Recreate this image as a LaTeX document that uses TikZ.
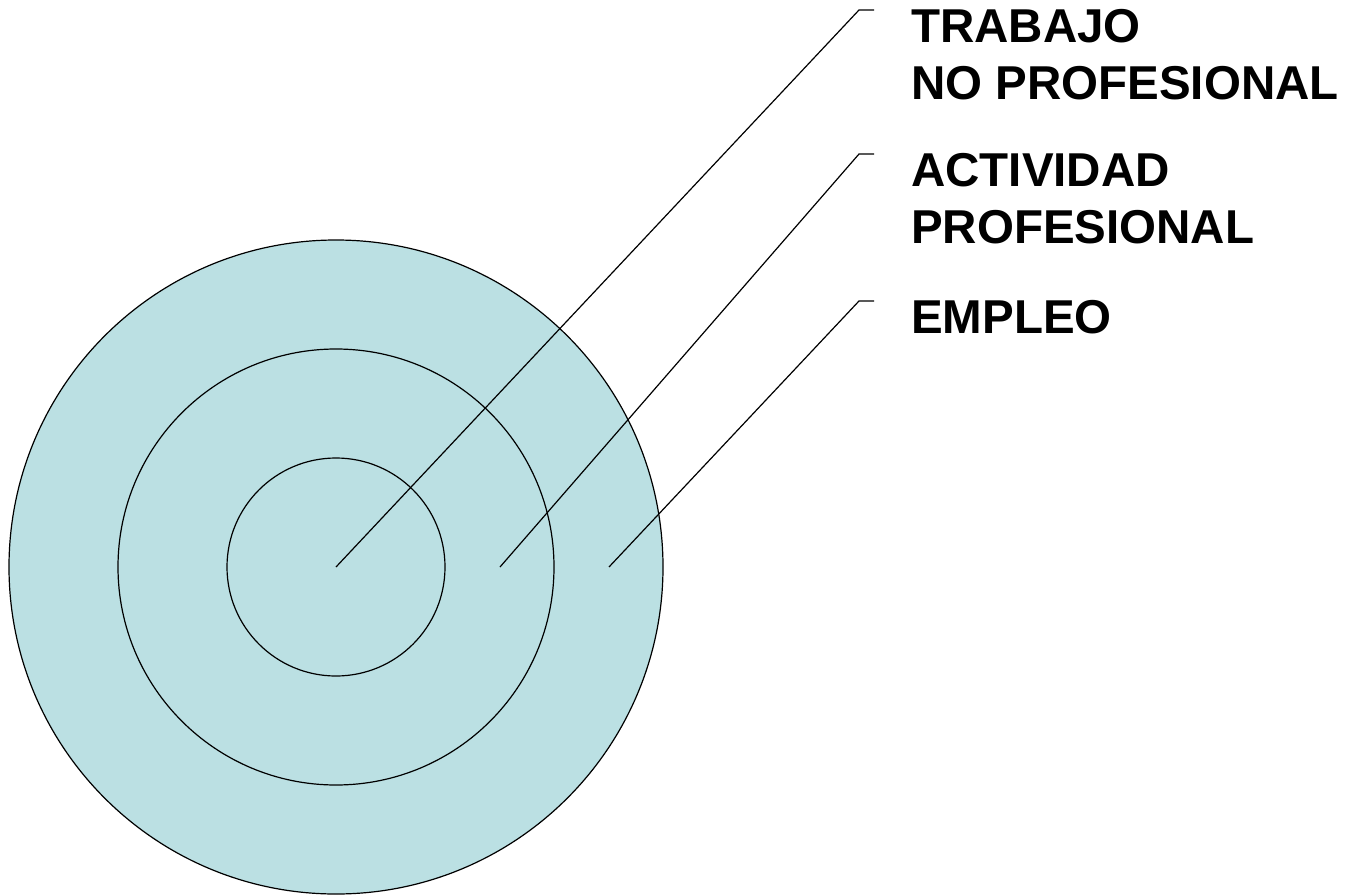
\documentclass[tikz,border=0pt]{standalone}
\usepackage{fontspec}
\setmainfont{Liberation Sans}
\usetikzlibrary{calc}
\definecolor{ringfill}{RGB}{187,224,227}
\tikzstyle{ring}=[draw=black,fill=ringfill,line width=1.2pt]
\tikzstyle{label}=[anchor=north west,inner sep=0pt,align=left,font=\fontsize{47.5}{57}\selectfont\bfseries]
\tikzstyle{leader}=[draw,line width=1.2pt]

\begin{document}
\begin{tikzpicture}[x=1pt,y=-1pt]
    \useasboundingbox (0,0) rectangle (1354,894);

    \coordinate (c) at (336,567);
    \foreach \r/\name in {327/outer, 218/middle, 109/inner}
        \path[ring] (c) circle (\r pt);

    \node[label] (trabajo) at (911,9) {TRABAJO\\NO PROFESIONAL};
    \node[label] (actividad) at (911,153) {ACTIVIDAD\\PROFESIONAL};
    \node[label] (empleo) at (911,300) {EMPLEO};

    \coordinate (p1) at (336,567);
    \coordinate (p2) at (500,567);
    \coordinate (p3) at (609,567);

    \foreach \source/\dest in {p1/trabajo, p2/actividad, p3/empleo}
        \path[leader] (\source) -- ($(\dest.north west)+(-52,1)$) -- ($(\dest.north west)+(-37,1)$);
\end{tikzpicture}
\end{document}
